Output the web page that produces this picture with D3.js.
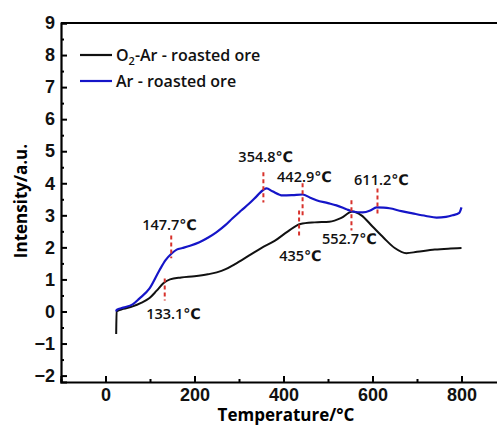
<!DOCTYPE html>
<html lang="en">
<head>
<meta charset="UTF-8">
<title>TPR curves</title>
<style>
  body { margin: 0; background: #fff; }
  svg { display: block; font-family: "Open Sans", "DejaVu Sans", sans-serif; }
</style>
</head>
<body>
<div class="canvas"></div>
<script src="https://cdnjs.cloudflare.com/ajax/libs/d3/7.8.5/d3.min.js"></script>
<script>
// series: [temperature, intensity]
const o2ArOre = [
  [24, -0.7], [25, 0], [40, 0.08], [61, 0.16], [80, 0.27], [99, 0.42], [115, 0.65],
  [130, 0.88], [145, 1.0], [170, 1.06], [200, 1.1], [230, 1.16], [250, 1.22],
  [270, 1.32], [290, 1.47], [323, 1.75], [350, 1.98], [380, 2.2], [410, 2.5],
  [438, 2.73], [470, 2.78], [503, 2.8], [530, 2.92], [555, 3.12], [575, 3.0],
  [600, 2.65], [625, 2.3], [650, 1.98], [676, 1.82], [700, 1.86], [740, 1.93],
  [770, 1.96], [800, 1.98]
];
const arOre = [
  [24, 0], [25, 0.05], [40, 0.12], [61, 0.22], [76, 0.4], [99, 0.72], [121, 1.28],
  [135, 1.6], [148, 1.8], [160, 1.93], [173, 1.98], [190, 2.05], [211, 2.16],
  [230, 2.3], [249, 2.47], [270, 2.7], [285, 2.9], [305, 3.15], [323, 3.37],
  [340, 3.6], [355, 3.8], [362, 3.84], [375, 3.75], [398, 3.62], [420, 3.63],
  [443, 3.65], [460, 3.55], [474, 3.47], [500, 3.38], [519, 3.31], [540, 3.2],
  [555, 3.12], [578, 3.09], [595, 3.15], [609, 3.25], [625, 3.24], [638, 3.22],
  [665, 3.13], [690, 3.06], [720, 2.98], [744, 2.93], [765, 2.95], [780, 3.0],
  [795, 3.08], [800, 3.25]
];

const seriesNames = ["O2-Ar - roasted ore", "Ar - roasted ore"];

// peak markers: temperature, dash from/to (intensity), label anchor (temp, intensity)
const peakTemps   = [147.7, 133.1, 354.8, 442.9, 435, 552.7, 611.2];
const peakLabels  = ["147.7℃", "133.1℃", "354.8℃", "442.9℃", "435℃", "552.7℃", "611.2℃"];
const dashTop     = [2.37, 1.03, 4.34, 4.0, 3.15, 3.47, 3.84];
const dashBottom  = [1.66, 0.34, 3.4, 3.0, 2.3, 2.53, 3.06];
const labelTemp   = [144, 153, 360, 447, 438, 548, 620];
const labelValue  = [2.53, -0.22, 4.66, 4.03, 1.59, 2.12, 3.94];

const xTicks = [0, 200, 400, 600, 800];
const yTicks = [-2, -1, 0, 1, 2, 3, 4, 5, 6, 7, 8, 9];

const width = 497, height = 427;
const plotLeft = 61, plotTop = 23, plotBottom = 382, plotRight = 506;

const svg = d3.select(".canvas").append("svg")
  .attr("width", width)
  .attr("height", height);

const x = d3.scaleLinear().domain([-100, 900]).range([plotLeft, plotRight]);
const y = d3.scaleLinear().domain([-2.2, 9]).range([plotBottom, plotTop]);

// minor ticks
const xMinor = d3.range(-100, 901, 100).filter(v => v % 200 !== 0);
const yMinor = d3.range(-2, 9, 1).map(v => v + 0.5);

svg.append("g")
  .attr("transform", `translate(0,${plotBottom})`)
  .call(d3.axisBottom(x).tickValues(xMinor).tickSize(-3).tickFormat(""))
  .call(g => g.select(".domain").remove())
  .selectAll("line").attr("stroke-width", 2);

svg.append("g")
  .attr("transform", `translate(${plotLeft},0)`)
  .call(d3.axisLeft(y).tickValues(yMinor).tickSize(-3).tickFormat(""))
  .call(g => g.select(".domain").remove())
  .selectAll("line").attr("stroke-width", 2);

// major axes
const xAxis = svg.append("g")
  .attr("transform", `translate(0,${plotBottom})`)
  .call(d3.axisBottom(x).tickValues(xTicks).tickSize(-6).tickPadding(6));
xAxis.select(".domain").attr("stroke-width", 2.2);
xAxis.selectAll("line").attr("stroke-width", 2);
xAxis.selectAll("text")
  .attr("font-size", 18).attr("font-weight", 700).attr("fill", "#111");

const yAxis = svg.append("g")
  .attr("transform", `translate(${plotLeft},0)`)
  .call(d3.axisLeft(y).tickValues(yTicks).tickSize(-6).tickPadding(6));
yAxis.select(".domain").attr("stroke-width", 2.2);
yAxis.selectAll("line").attr("stroke-width", 2);
yAxis.selectAll("text")
  .attr("font-size", 18).attr("font-weight", 700).attr("fill", "#111");

// top frame
svg.append("line")
  .attr("x1", plotLeft).attr("x2", plotRight)
  .attr("y1", plotTop).attr("y2", plotTop)
  .attr("stroke", "#000").attr("stroke-width", 2.2);

// axis titles
svg.append("text")
  .attr("x", 286).attr("y", 421)
  .attr("text-anchor", "middle")
  .attr("font-size", 17).attr("font-weight", 700)
  .text("Temperature/°C");

svg.append("text")
  .attr("transform", "translate(27,201) rotate(-90)")
  .attr("text-anchor", "middle")
  .attr("font-size", 17).attr("font-weight", 700)
  .text("Intensity/a.u.");

// curves
const line = d3.line()
  .x(d => x(d[0]))
  .y(d => y(d[1]))
  .curve(d3.curveMonotoneX);

svg.append("path")
  .datum(o2ArOre)
  .attr("fill", "none").attr("stroke", "#111").attr("stroke-width", 2)
  .attr("d", line);

svg.append("path")
  .datum(arOre)
  .attr("fill", "none").attr("stroke", "#1515c8").attr("stroke-width", 2.2)
  .attr("d", line);

// dashed peak markers
svg.selectAll(".peak")
  .data(peakTemps)
  .join("line")
    .attr("class", "peak")
    .attr("x1", d => x(d)).attr("x2", d => x(d))
    .attr("y1", (d, i) => y(dashTop[i]))
    .attr("y2", (d, i) => y(dashBottom[i]))
    .attr("stroke", "#d8322c").attr("stroke-width", 2)
    .attr("stroke-dasharray", "4,3");

svg.selectAll(".peak-label")
  .data(peakLabels)
  .join("text")
    .attr("class", "peak-label")
    .attr("x", (d, i) => x(labelTemp[i]))
    .attr("y", (d, i) => y(labelValue[i]))
    .attr("text-anchor", "middle")
    .attr("font-size", 14.5).attr("font-weight", 600).attr("fill", "#111")
    .text(d => d);

// legend
const legendColors = ["#111", "#1515c8"];
const legend = svg.append("g");
legend.selectAll("line")
  .data(seriesNames)
  .join("line")
    .attr("x1", 80).attr("x2", 112)
    .attr("y1", (d, i) => 55 + i * 26).attr("y2", (d, i) => 55 + i * 26)
    .attr("stroke", (d, i) => legendColors[i]).attr("stroke-width", 2.2);

const legendText = legend.selectAll("text")
  .data(seriesNames)
  .join("text")
    .attr("x", 116)
    .attr("y", (d, i) => 61 + i * 26)
    .attr("font-size", 16).attr("font-weight", 600).attr("fill", "#111");

legendText.each(function(d) {
  const t = d3.select(this);
  if (d.startsWith("O2")) {
    t.append("tspan").text("O");
    t.append("tspan").attr("font-size", 11).attr("dy", 4).text("2");
    t.append("tspan").attr("dy", -4).text(d.slice(2));
  } else {
    t.text(d);
  }
});
</script>
</body>
</html>
